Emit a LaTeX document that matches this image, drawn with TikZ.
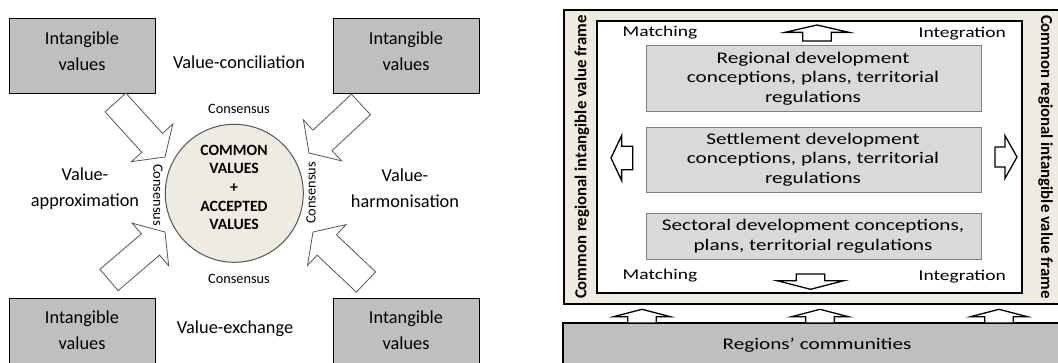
\documentclass[tikz,border=0pt]{standalone}
\usepackage{fontspec}
\setmainfont{Carlito}
\newfontfamily\widefont{Carlito}[FakeStretch=1.3]
\usetikzlibrary{calc}
\definecolor{boxgray}{HTML}{BFBFBF}
\definecolor{beige}{HTML}{EEECE1}
\definecolor{lightbox}{HTML}{D9D9D9}
\definecolor{arrowline}{HTML}{555555}
\definecolor{boxline}{HTML}{7F7F7F}
\newcommand\BlkArrow[6]{%
  \coordinate (ba-b) at ($(#1)!#5!(#2)$);
  \draw[#6] ($(#1)!#3!90:(#2)$) -- ($(ba-b)!#3!90:(#2)$) -- ($(ba-b)!#4!90:(#2)$) -- (#2)
    -- ($(ba-b)!#4!-90:(#2)$) -- ($(ba-b)!#3!-90:(#2)$) -- ($(#1)!#3!-90:(#2)$) -- cycle;}
\tikzset{
  gbox/.style={draw=black, line width=0.8pt, fill=boxgray},
  ltext/.style={align=center, font=\fontsize{18.3}{26}\selectfont, inner sep=0pt},
  cons/.style={font=\fontsize{14.3}{16}\selectfont, inner sep=0pt},
  diagarrow/.style={draw=arrowline, line width=0.8pt, fill=white, line join=miter},
  smallarrow/.style={draw=black, line width=1.3pt, fill=white, line join=miter},
  rbox/.style={draw=boxline, line width=0.9pt, fill=lightbox},
  rtext/.style={align=center, font=\widefont\fontsize{16.3}{19.5}\selectfont, inner sep=0pt},
  mtext/.style={font=\widefont\fontsize{15}{18}\selectfont, inner sep=0pt},
  vtext/.style={font=\bfseries\fontsize{16.8}{18}\selectfont, inner sep=0pt}
}
\begin{document}
\begin{tikzpicture}[x=1pt,y=-1pt]
\clip (0,0) rectangle (1058,363);
\fill[white] (0,0) rectangle (1058,363);
% ---------------- left panel ----------------
\draw[gbox] (9,18) rectangle (155,93);
\draw[gbox] (333,18) rectangle (479,93);
\draw[gbox] (9,298) rectangle (155,375);
\draw[gbox] (333,298) rectangle (479,375);
\node[ltext] (t1) at (82,51) {Intangible\\values};
\node[ltext] (t2) at (406,51) {Intangible\\values};
\node[ltext] (t3) at (82,330) {Intangible\\values};
\node[ltext] (t4) at (406,330) {Intangible\\values};
\node[ltext] (vc) at (239,62) {Value-conciliation};
\node[ltext] (va) at (85,188.5) {Value-\\approximation};
\node[ltext] (vh) at (405,188.5) {Value-\\harmonisation};
\node[ltext] (ve) at (235,329) {Value-exchange};
\node[circle, draw=arrowline, line width=1pt, fill=beige, minimum size=138pt, inner sep=0pt] (core) at (234.3,193.3) {};
\node[align=center, font=\bfseries\fontsize{15.7}{18.7}\selectfont, inner sep=0pt] (coretext) at (234,187.5)
  {COMMON\\VALUES\\+\\ACCEPTED\\VALUES};
\node[cons] (c1) at (239,109) {Consensus};
\node[cons] (c2) at (239,279) {Consensus};
\node[cons, rotate=-90] (c3) at (158,195) {Consensus};
\node[cons, rotate=90] (c4) at (311,193) {Consensus};
% diagonal block arrows
\coordinate (a1t) at (115.5,102.5); \coordinate (a1p) at (165,157);
\coordinate (a2t) at (361,104.5);   \coordinate (a2p) at (309,153);
\coordinate (a3t) at (109,280);     \coordinate (a3p) at (165,232);
\coordinate (a4t) at (366,282);     \coordinate (a4p) at (313,232);
\BlkArrow{a1t}{a1p}{14pt}{28pt}{0.74}{diagarrow}
\BlkArrow{a2t}{a2p}{14pt}{28pt}{0.74}{diagarrow}
\BlkArrow{a3t}{a3p}{14pt}{28pt}{0.74}{diagarrow}
\BlkArrow{a4t}{a4p}{14pt}{28pt}{0.74}{diagarrow}
% ---------------- right panel ----------------
\draw[draw=black, line width=1.5pt, fill=beige] (564,10) rectangle (1070,304);
\draw[draw=black, line width=1.8pt, fill=white] (597.3,20.7) rectangle (1021.7,293);
\draw[rbox] (646,45.5) rectangle (981.7,111);
\draw[rbox] (646,127) rectangle (981.7,192);
\draw[rbox] (646,213) rectangle (981.7,259);
\node[rtext] (r1) at (813,78.7) {Regional development\\conceptions, plans, territorial\\regulations};
\node[rtext] (r2) at (813,159.7) {Settlement development\\conceptions, plans, territorial\\regulations};
\node[rtext] (r3) at (813,236.3) {Sectoral development conceptions,\\plans, territorial regulations};
\node[mtext, anchor=west] (m1) at (622.5,32.3) {Matching};
\node[mtext, anchor=east] (i1) at (1006,33.3) {Integration};
\node[mtext, anchor=west] (m2) at (622.5,276) {Matching};
\node[mtext, anchor=east] (i2) at (1006,277) {Integration};
\node[vtext, rotate=90] (f1) at (582,157) {Common regional intangible value frame};
\node[vtext, rotate=-90] (f2) at (1045.5,157) {Common regional intangible value frame};
\draw[draw=black, line width=1.3pt, fill=boxgray] (563,323) rectangle (1070,375);
\node[rtext] (rc) at (817,345) {Regions’ communities};
% small block arrows
\coordinate (u1t) at (817,41);    \coordinate (u1p) at (817,25);
\coordinate (d1t) at (810.5,274); \coordinate (d1p) at (810.5,289.3);
\coordinate (l1t) at (632.7,158); \coordinate (l1p) at (611,158);
\coordinate (r1t) at (995,157);   \coordinate (r1p) at (1017,157);
\coordinate (b1t) at (642,323);   \coordinate (b1p) at (642,309.3);
\coordinate (b2t) at (820,323);   \coordinate (b2p) at (820,309.3);
\coordinate (b3t) at (999,323);   \coordinate (b3p) at (999,309.3);
\BlkArrow{u1t}{u1p}{14.2pt}{32pt}{0.54}{smallarrow}
\BlkArrow{d1t}{d1p}{14.2pt}{33.3pt}{0.44}{smallarrow}
\BlkArrow{l1t}{l1p}{11.7pt}{22.5pt}{0.51}{smallarrow}
\BlkArrow{r1t}{r1p}{10pt}{21.5pt}{0.45}{smallarrow}
\BlkArrow{b1t}{b1p}{14.2pt}{28.3pt}{0.46}{smallarrow}
\BlkArrow{b2t}{b2p}{14.2pt}{28.3pt}{0.46}{smallarrow}
\BlkArrow{b3t}{b3p}{14.2pt}{28.3pt}{0.46}{smallarrow}
\end{tikzpicture}
\end{document}
